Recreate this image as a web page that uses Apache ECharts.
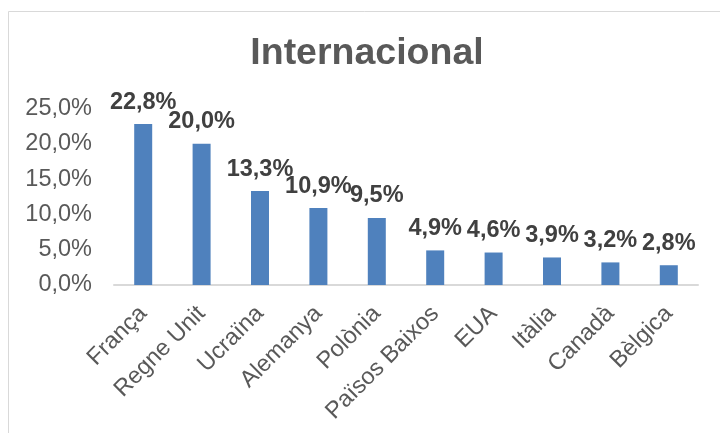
<!DOCTYPE html>
<html><head><meta charset="utf-8">
<script src="https://cdn.jsdelivr.net/npm/echarts@6/dist/echarts.min.js"></script>
<style>html,body{margin:0;padding:0;background:#fff}#c{width:720px;height:433px}</style>
</head><body><div id="c"></div>
<script>
const categories = ['França','Regne Unit','Ucraïna','Alemanya','Polònia','Països Baixos','EUA','Itàlia','Canadà','Bèlgica'];
const values = [22.8, 20.0, 13.3, 10.9, 9.5, 4.9, 4.6, 3.9, 3.2, 2.8];
const yTicks = [0, 5, 10, 15, 20, 25];
const titleText = 'Internacional';

const fmt = v => v.toFixed(1).replace('.', ',') + '%';
const FF = 'Liberation Sans, Arial, sans-serif';
const chart = echarts.init(document.getElementById('c'), null, {renderer: 'canvas'});
chart.setOption({
  animation: false,
  backgroundColor: '#fff',
  textStyle: {fontFamily: FF},
  graphic: [{type: 'rect', shape: {x: 8.5, y: 11.5, width: 730, height: 440}, style: {fill: 'none', stroke: '#d9d9d9', lineWidth: 1}, silent: true}],
  title: {text: titleText, left: 362, textAlign: 'center', top: 29.5,
    textStyle: {fontSize: 37.5, fontWeight: 'bold', color: '#595959', fontFamily: FF}},
  grid: {left: 114, right: 22, top: 108.5, bottom: 148, containLabel: false},
  xAxis: {type: 'category', data: categories,
    axisLine: {lineStyle: {color: '#d9d9d9', width: 2}},
    axisTick: {show: false},
    axisLabel: {rotate: 45, interval: 0, fontSize: 23.5, color: '#595959', margin: 25, fontFamily: FF}},
  yAxis: {type: 'value', min: yTicks[0], max: yTicks[yTicks.length-1], interval: 5,
    axisLine: {show: false}, axisTick: {show: false}, splitLine: {show: false},
    axisLabel: {fontSize: 23.5, color: '#595959', margin: 22, formatter: v => fmt(v), fontFamily: FF}},
  series: [{type: 'bar', data: values, barWidth: 18,
    itemStyle: {color: '#4f81bd'},
    label: {show: true, position: 'top', distance: 10, formatter: p => fmt(p.value),
      fontSize: 23.5, fontWeight: 'bold', color: '#404040', fontFamily: FF}}]
});
</script></body></html>
